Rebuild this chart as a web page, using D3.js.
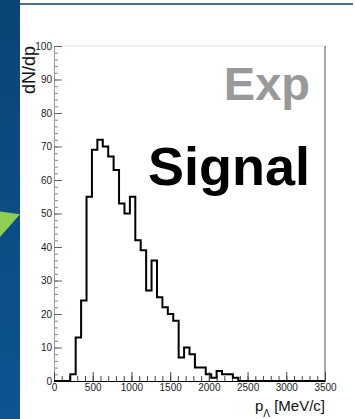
<!DOCTYPE html>
<html>
<head>
<meta charset="utf-8">
<script src="https://cdn.jsdelivr.net/npm/d3@7"></script>
<style>
  body { margin: 0; background: #fff; }
  svg { display: block; font-family: "Liberation Sans", Arial, Helvetica, sans-serif; }
</style>
</head>
<body>
<div class="graph"></div>
<script>
// histogram: 50 bins of 70 MeV/c from 0 to 3500
const binWidth = 70;
const counts = [0, 0, 0, 2, 13, 24, 55, 69, 72, 70,
                67, 63, 53, 50, 55, 42, 39, 27, 36, 25,
                22, 20, 18, 7, 10, 8, 4, 4, 2, 1,
                3, 2, 2, 1, 0, 0, 0, 0, 0, 0,
                0, 0, 0, 0, 0, 0, 0, 0, 0, 0];
const xTicks = [0, 500, 1000, 1500, 2000, 2500, 3000, 3500];
const yTicks = [0, 10, 20, 30, 40, 50, 60, 70, 80, 90, 100];

const W = 355, H = 419;
const svg = d3.select('.graph').append('svg')
  .attr('width', W)
  .attr('height', H);

// slide decoration
const defs = svg.append('defs');
const grad = defs.append('linearGradient').attr('id', 'band')
  .attr('x1', 0).attr('y1', 0).attr('x2', 0).attr('y2', 1);
grad.append('stop').attr('offset', '0%').attr('stop-color', '#0a4476');
grad.append('stop').attr('offset', '100%').attr('stop-color', '#0c5592');

svg.append('rect').attr('x', 0).attr('y', 0).attr('width', 20).attr('height', H)
  .attr('fill', 'url(#band)');
svg.append('path').attr('d', 'M0,211.5L20,214.3L0,237Z').attr('fill', '#8fcf4f');
svg.append('line').attr('x1', 20).attr('x2', 353).attr('y1', 4).attr('y2', 4)
  .attr('stroke', '#0d3b6a').attr('stroke-width', 1.5);

// plot area
const pLeft = 54, pRight = 325, pTop = 46, pBottom = 381;
const x = d3.scaleLinear().domain([0, 3500]).range([pLeft, pRight]);
const y = d3.scaleLinear().domain([0, 100]).range([pBottom, pTop]);

// frame
svg.append('line').attr('x1', pLeft).attr('x2', pRight).attr('y1', pTop).attr('y2', pTop)
  .attr('stroke', '#c8c8c8').attr('stroke-width', 1).attr('stroke-dasharray', '1,1');
svg.append('line').attr('x1', pRight).attr('x2', pRight).attr('y1', pTop).attr('y2', pBottom)
  .attr('stroke', '#555').attr('stroke-width', 1);

// y axis (ticks pointing inward)
svg.append('g')
  .attr('transform', `translate(${pLeft},0)`)
  .call(d3.axisLeft(y).tickValues(d3.range(0, 101, 2)).tickSize(-4).tickFormat(''))
  .call(g => g.select('.domain').remove())
  .call(g => g.selectAll('line').attr('stroke', '#888'));

const yAxis = svg.append('g')
  .attr('transform', `translate(${pLeft},0)`)
  .call(d3.axisLeft(y).tickValues(yTicks).tickFormat(d3.format('d'))
    .tickSizeInner(-8).tickSizeOuter(0).tickPadding(2));
yAxis.select('.domain').attr('stroke', '#999');
yAxis.selectAll('line').attr('stroke', '#666');
yAxis.selectAll('text').attr('fill', '#222').style('font-size', '10px')
  .style('font-family', '"Liberation Sans", Arial, sans-serif');

// x axis (ticks pointing up)
svg.append('g')
  .attr('transform', `translate(0,${pBottom})`)
  .call(d3.axisBottom(x).tickValues(d3.range(0, 3501, 100)).tickSize(-5).tickFormat(''))
  .call(g => g.select('.domain').remove())
  .call(g => g.selectAll('line').attr('stroke', '#444'));

const xAxis = svg.append('g')
  .attr('transform', `translate(0,${pBottom})`)
  .call(d3.axisBottom(x).tickValues(xTicks).tickFormat(d3.format('d'))
    .tickSizeInner(-9).tickSizeOuter(0).tickPadding(3));
xAxis.select('.domain').attr('stroke', '#000');
xAxis.selectAll('line').attr('stroke', '#444');
xAxis.selectAll('text').attr('fill', '#222').style('font-size', '10px')
  .style('font-family', '"Liberation Sans", Arial, sans-serif');

// histogram outline
const pts = counts.map((c, i) => [i * binWidth, c]);
pts.push([counts.length * binWidth, counts[counts.length - 1]]);

const line = d3.line()
  .x(d => x(d[0]))
  .y(d => y(d[1]))
  .curve(d3.curveStepAfter);

svg.append('path')
  .datum(pts)
  .attr('fill', 'none')
  .attr('stroke', '#000')
  .attr('stroke-width', 2)
  .attr('d', line);

// labels
svg.append('text')
  .attr('transform', `translate(35,${pTop}) rotate(-90)`)
  .attr('text-anchor', 'end')
  .style('font-size', '18px')
  .attr('fill', '#111')
  .text('dN/dp');

const xl = svg.append('text')
  .attr('x', pRight).attr('y', 411)
  .attr('text-anchor', 'end')
  .style('font-size', '15px')
  .attr('fill', '#111');
xl.append('tspan').text('p');
xl.append('tspan').attr('dy', 6).style('font-size', '10px').text('Λ');
xl.append('tspan').attr('dy', -6).text(' [MeV/c]');

svg.append('text')
  .attr('x', 310).attr('y', 100)
  .attr('text-anchor', 'end')
  .style('font-size', '47px').style('font-weight', 'bold')
  .attr('fill', '#999')
  .text('Exp');

svg.append('text')
  .attr('x', 310).attr('y', 185)
  .attr('text-anchor', 'end')
  .style('font-size', '54px').style('font-weight', 'bold')
  .attr('fill', '#000')
  .text('Signal');
</script>
</body>
</html>
